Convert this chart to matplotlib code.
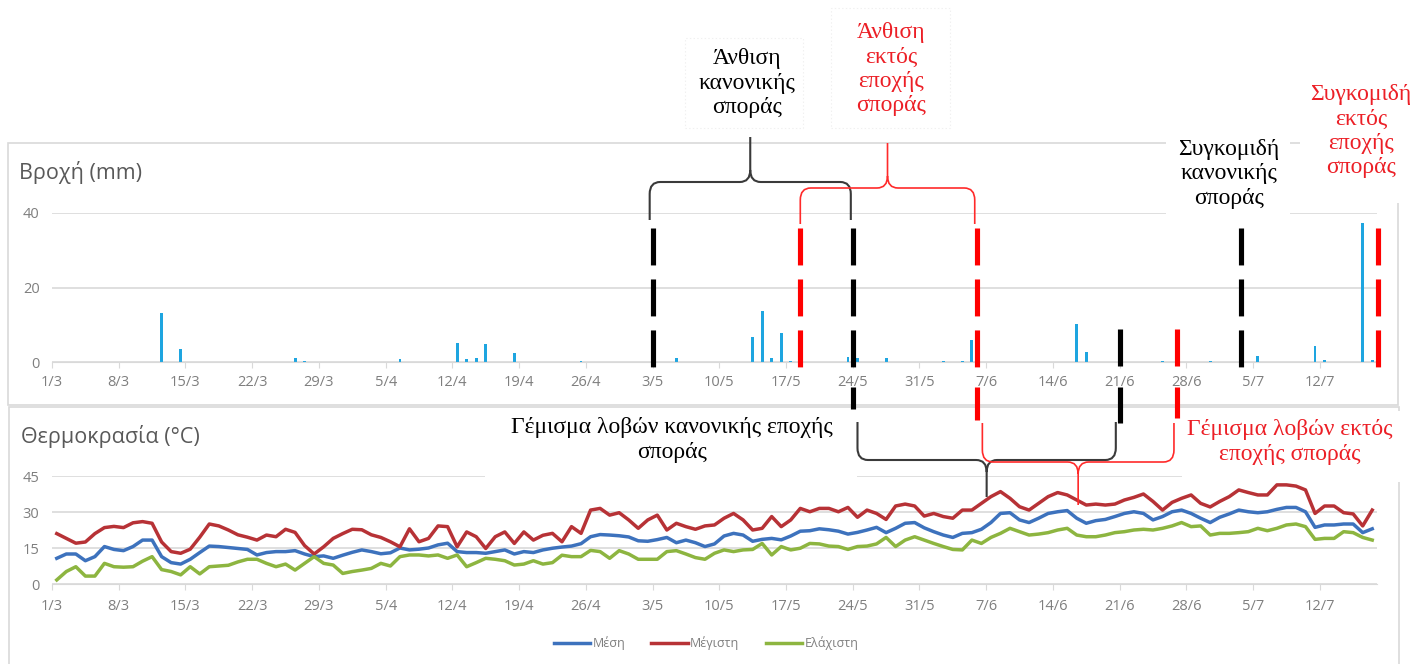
import numpy as np
import matplotlib
matplotlib.use('Agg')
import matplotlib.pyplot as plt
import matplotlib.transforms as mtransforms
from matplotlib.patches import Rectangle, PathPatch
from matplotlib.path import Path
from matplotlib.lines import Line2D

plt.rcParams['lines.scale_dashes'] = False
plt.rcParams['font.family'] = ['Open Sans', 'DejaVu Sans']

W, H = 1416, 664

# ---- data ------------------------------------------------------------
n_days = 139  # 1/3 .. 17/7
tick_labels = ['1/3', '8/3', '15/3', '22/3', '29/3', '5/4', '12/4', '19/4', '26/4', '3/5',
               '10/5', '17/5', '24/5', '31/5', '7/6', '14/6', '21/6', '28/6', '5/7', '12/7']

# rainy days (days after 1/3) and rain in mm
rain_day = [11, 13, 25, 26, 36, 42, 43, 44, 45, 48, 55, 65, 73, 74, 75, 76, 77, 83, 84, 87,
            93, 95, 96, 107, 108, 116, 121, 126, 132, 133, 137, 138]
rain_mm = [13.2, 3.5, 1.2, 0.3, 0.8, 5.0, 0.8, 1.0, 4.8, 2.5, 0.4, 1.0, 6.8, 13.8, 1.0, 7.7, 0.3, 1.3, 1.0, 1.2,
           0.2, 0.3, 5.9, 10.2, 2.6, 0.2, 0.2, 1.6, 4.4, 0.5, 37.3, 0.5]

t_mean = [10.7, 12.5, 12.5, 9.7, 11.4, 15.6, 14.4, 13.9, 15.6, 18.3,
          18.3, 11.4, 8.9, 8.3, 10.3, 13.1, 15.8, 15.6, 15.2, 14.8,
          14.4, 12.1, 13.1, 13.5, 13.5, 13.9, 12.5, 11.4, 11.7, 10.7,
          12, 13.2, 14.2, 13.5, 12.6, 13, 15, 14.2, 14.5, 15,
          16.3, 17, 13.5, 13.1, 13.1, 12.8, 13.5, 14.2, 12.5, 13.5,
          13.1, 14.2, 14.9, 15.4, 15.8, 16.8, 19.7, 20.6, 20.4, 20.1,
          19.6, 18, 17.8, 18.5, 19.4, 17.2, 18.3, 17.2, 15.6, 16.7,
          20, 21.1, 20.4, 17.8, 18.6, 19, 18.4, 20, 22, 22.2,
          23, 22.6, 22, 20.8, 21.5, 22.5, 23.6, 21.4, 23.2, 25.3,
          25.6, 23.4, 21.8, 20.4, 19.4, 21.1, 21.4, 22.8, 25.6, 29.4,
          29.7, 26.7, 25.6, 27.4, 29.4, 30.1, 30.6, 27.4, 25.3, 26.4,
          26.9, 28.1, 29.4, 30.1, 29.4, 26.7, 28.1, 30.1, 30.8, 29.4,
          27.4, 25.6, 27.8, 29.2, 30.8, 30.1, 29.7, 30.1, 31.1, 31.9,
          31.9, 30.1, 23.6, 24.6, 24.6, 25, 25, 21.4, 23]

t_max = [21, 19, 17, 17.5, 21, 23.5, 24, 23.5, 25.5, 26,
         25.3, 17.5, 13.5, 12.8, 14.5, 19.5, 25, 24.2, 22.5, 20.5,
         19.5, 18.3, 20.4, 19.7, 22.8, 21.5, 16, 12.5, 15.5, 19,
         21, 22.8, 22.6, 20.5, 19.4, 17.6, 15.5, 23, 17.6, 19,
         24.2, 23.9, 15.5, 21.7, 19.7, 14.8, 19.7, 21.7, 16.9, 21.7,
         18.3, 20.3, 21.1, 17.6, 23.9, 21.1, 30.8, 31.5, 28.7, 29.7,
         26.7, 23.2, 26.7, 28.7, 22.5, 25.3, 23.9, 22.8, 24.2, 24.6,
         27.4, 29.4, 26.7, 22.5, 23.2, 28.1, 23.9, 26.7, 31.5, 30.1,
         31.5, 31.5, 30.1, 31.9, 27.8, 30.8, 29.4, 26.9, 32.5, 33.3,
         32.5, 28.3, 29.4, 28.1, 27.4, 30.8, 30.8, 33.6, 36.4, 38.5,
         35.7, 32.2, 30.8, 33.6, 36.4, 38.1, 37.1, 35, 32.9, 33.3,
         32.9, 33.3, 35, 36.1, 37.5, 34.4, 30.8, 34, 35.7, 37.1,
         33.6, 32.1, 34.4, 36.4, 39.2, 38.1, 37.1, 37.1, 41.3, 41.3,
         40.8, 39.2, 29.4, 32.5, 32.5, 29.7, 29.2, 24.2, 30.8]

t_min = [1.7, 5.2, 7.2, 3.3, 3.3, 8.6, 7.2, 7, 7.2, 9.5,
         11.4, 6, 5.2, 3.8, 7.2, 4.2, 7.2, 7.5, 7.8, 9.2,
         10.3, 10.3, 8.6, 7.2, 8.3, 5.8, 8.6, 11.4, 8.6, 7.9,
         4.4, 5.2, 5.8, 6.5, 8.6, 7.5, 11.4, 12.1, 12.1, 11.7,
         12.1, 10.7, 12.1, 7.2, 8.9, 10.7, 10.3, 9.7, 7.9, 8.3,
         9.7, 8.3, 8.9, 12, 11.4, 11.4, 14, 13.5, 10.7, 13.9,
         12.5, 10.3, 10.3, 10.3, 13.5, 13.9, 12.5, 11, 10.3, 12.8,
         14.2, 13.5, 14.2, 14.4, 16.9, 12.1, 15.6, 14.2, 14.9, 16.9,
         16.7, 15.8, 15.6, 14.4, 15.6, 15.8, 16.7, 19.4, 15.6, 18.3,
         19.7, 18.3, 16.9, 15.6, 14.4, 14.2, 18.3, 16.9, 19.4, 21.1,
         23.2, 21.8, 20.4, 20.8, 21.4, 22.5, 23.2, 20.4, 19.7, 19.7,
         20.4, 21.4, 21.8, 22.5, 22.8, 22.5, 23.2, 24.2, 25.6, 23.9,
         24.2, 20.4, 21.1, 21.1, 21.4, 21.8, 23.2, 22.2, 23.2, 24.6,
         25, 23.9, 18.6, 19, 19, 21.8, 21.4, 19.4, 18.3]

# crop stages (days after 1/3)
flowering_normal = (63, 84)
flowering_late = (78.5, 97)
filling_normal = (84, 112)
filling_late = (97, 118)
harvest_normal = 124.7
harvest_late = 139.1

GRID = '#d9d9d9'
LABEL = '#7f7f7f'
RED = '#ec1f26'
SERIF = 'Liberation Serif'


def fx(x):
    return x / W


def fy(y):
    return 1 - y / H


fig = plt.figure(figsize=(W / 100, H / 100), dpi=100)

# panel frames
for (l, t, r, b) in [(8, 143, 1398, 405), (9, 407, 1399, 700)]:
    fig.add_artist(Rectangle((fx(l), fy(b)), fx(r) - fx(l), fy(t) - fy(b),
                             transform=fig.transFigure, fc='white', ec=GRID, lw=1.2, zorder=-2))

ax_r = fig.add_axes([fx(52), fy(362), fx(1377) - fx(52), fy(213) - fy(362)])
ax_t = fig.add_axes([fx(52), fy(584), fx(1377) - fx(52), fy(476) - fy(584)])

for ax, yticks, pad in [(ax_r, [0, 20, 40], 5), (ax_t, [0, 15, 30, 45], 7)]:
    ax.patch.set_visible(False)
    ax.set_xlim(0, n_days)
    ax.set_ylim(0, yticks[-1])
    ax.set_yticks(yticks)
    ax.set_xticks(np.arange(0, n_days, 7))
    ax.set_xticklabels(tick_labels)
    for s in ['left', 'right', 'top']:
        ax.spines[s].set_visible(False)
    ax.spines['bottom'].set_color(GRID)
    ax.grid(axis='y', color=GRID, lw=1.2)
    ax.set_axisbelow(True)
    ax.tick_params(axis='y', length=0, pad=9, labelsize=10.5, labelcolor=LABEL)
    ax.tick_params(axis='x', length=4, color=GRID, pad=pad, labelsize=10.5, labelcolor=LABEL)

rain = np.zeros(n_days)
rain[rain_day] = rain_mm
ax_r.bar(np.arange(n_days) + 0.5, rain, width=0.3, color='#1ea5e0')

x = np.arange(n_days) + 0.5
l1, = ax_t.plot(x, t_mean, color='#3d72bd', lw=2.5, label='Μέση')
l2, = ax_t.plot(x, t_max, color='#b73236', lw=2.5, label='Μέγιστη')
l3, = ax_t.plot(x, t_min, color='#8db540', lw=2.5, label='Ελάχιστη')
fig.legend(handles=[l1, l2, l3], loc='center', bbox_to_anchor=(fx(706), fy(643)), ncol=3,
           frameon=False, fontsize=9, handlelength=2.9, columnspacing=2.1, handletextpad=0.2,
           labelcolor=LABEL)

fig.text(fx(19), fy(172), 'Βροχή (mm)', fontsize=15.5, color='#595959', va='center')
fig.text(fx(21), fy(436), 'Θερμοκρασία (°C)', fontsize=15.5, color='#595959', va='center')

# ---- annotations -------------------------------------------------------
trans = mtransforms.blended_transform_factory(ax_r.transData, fig.transFigure)


def stage_line(day, y_top, y_bot, color, dashed=True):
    ln = Line2D([day, day], [fy(y_top), fy(y_bot)], transform=trans, color=color, lw=3.7,
                solid_capstyle='butt', dash_capstyle='butt', zorder=6)
    if dashed:
        ln.set_linestyle((0, (26.6, 10.1)))
    fig.add_artist(ln)


for d in [flowering_normal[0], flowering_normal[1], harvest_normal]:
    stage_line(d, 228, 367, 'black')
for d in [flowering_late[0], flowering_late[1], harvest_late]:
    stage_line(d, 228, 367, '#ff0000')
stage_line(filling_normal[1], 329, 366, 'black', False)
stage_line(filling_late[1], 329, 366, '#ff0000', False)
stage_line(filling_normal[0], 387, 409, 'black', False)
stage_line(filling_late[0], 387, 420, '#ff0000', False)
stage_line(filling_normal[1], 387, 423, 'black', False)
stage_line(filling_late[1], 387, 418, '#ff0000', False)


def brace(xa, xb, y_end, y_bar, y_tip, color, lw):
    xc = (xa + xb) / 2
    ye, yb, yt = fy(y_end), fy(y_bar), fy(y_tip)
    d = 1 if yt > yb else -1
    rx, ry = 1.1, 12 / H
    verts = [(xa, ye), (xa, yb - d * ry), (xa, yb), (xa + rx, yb),
             (xc - rx, yb), (xc, yb), (xc, yb + d * ry), (xc, yt),
             (xc, yb + d * ry), (xc, yb), (xc + rx, yb),
             (xb - rx, yb), (xb, yb), (xb, yb - d * ry), (xb, ye)]
    codes = [Path.MOVETO, Path.LINETO, Path.CURVE3, Path.CURVE3,
             Path.LINETO, Path.CURVE3, Path.CURVE3, Path.LINETO,
             Path.MOVETO, Path.CURVE3, Path.CURVE3,
             Path.LINETO, Path.CURVE3, Path.CURVE3, Path.LINETO]
    fig.add_artist(PathPatch(Path(verts, codes), transform=trans, fill=False,
                             ec=color, lw=lw, zorder=5))


brace(flowering_normal[0] - 0.3, flowering_normal[1] - 0.2, 220, 182, 137, '#3a3a3a', 1.5)
brace(flowering_late[0], flowering_late[1] - 0.2, 224, 188, 143, '#ff2a2a', 1.2)
brace(filling_normal[0] + 0.5, filling_normal[1] - 0.4, 422, 460, 497, '#3a3a3a', 1.5)
brace(filling_late[0] + 0.6, filling_late[1] - 0.3, 423, 462, 505, '#ff2a2a', 1.2)


def label(cx, cy, text, color, box, edge='none', ls='-'):
    l, t, r, b = box
    fig.add_artist(Rectangle((fx(l), fy(b)), fx(r) - fx(l), fy(t) - fy(b), transform=fig.transFigure,
                             fc='white', ec=edge, lw=0.8, ls=ls, zorder=3))
    fig.text(fx(cx), fy(cy), text, color=color, fontsize=17, family=SERIF, ha='center',
             va='center', ma='center', linespacing=1.2, zorder=4)


label(747, 83, 'Άνθιση\nκανονικής\nσποράς', 'black', (685, 38, 803, 128), '#f0f0f0', ':')
label(891, 69, 'Άνθιση\nεκτός\nεποχής\nσποράς', RED, (831, 8, 950, 128), '#f0f0f0', ':')
label(1229, 174, 'Συγκομιδή\nκανονικής\nσποράς', 'black', (1166, 128, 1290, 222))
label(1361, 131, 'Συγκομιδή\nεκτός\nεποχής\nσποράς', RED, (1300, 62, 1416, 203))
label(672, 440, 'Γέμισμα λοβών κανονικής εποχής\nσποράς', 'black', (485, 411, 857, 482))
label(1290, 442, 'Γέμισμα λοβών εκτός\nεποχής σποράς', RED, (1182, 411, 1416, 482))

fig.savefig('out.png', dpi=100, facecolor='white')
